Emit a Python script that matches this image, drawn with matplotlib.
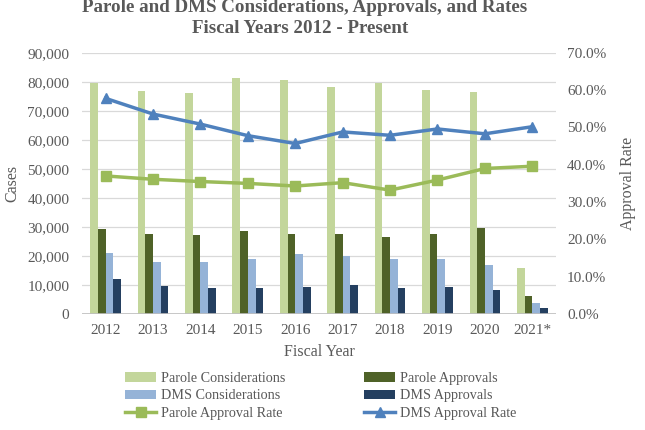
import matplotlib
matplotlib.use("Agg")
import matplotlib.pyplot as plt
import matplotlib.ticker as mticker
import numpy as np

plt.rcParams['font.family'] = ['Liberation Serif', 'DejaVu Serif']

# 数据
years = ['2012', '2013', '2014', '2015', '2016', '2017', '2018', '2019', '2020', '2021*']
parole_cons = [79600, 76700, 76200, 81200, 80700, 78100, 79600, 77300, 76400, 15800]
parole_appr = [29400, 27700, 27100, 28500, 27700, 27500, 26400, 27700, 29600, 6200]
dms_cons = [21000, 17900, 18000, 19000, 20500, 20100, 19000, 18900, 17000, 3600]
dms_appr = [12100, 9600, 9100, 9000, 9300, 9800, 9100, 9300, 8300, 2000]
parole_rate = [0.370, 0.361, 0.355, 0.350, 0.343, 0.352, 0.332, 0.359, 0.390, 0.396]
dms_rate = [0.578, 0.536, 0.509, 0.478, 0.457, 0.488, 0.479, 0.496, 0.483, 0.502]

TXT = '#595959'
fig = plt.figure(figsize=(6.45, 4.3), dpi=100)
ax = fig.add_axes([0.127, 0.270, 0.735, 0.607])
ax2 = ax.twinx()

x = np.arange(len(years))
w = 0.162
ax.bar(x - 1.5 * w, parole_cons, w, color='#C3D69B', label='Parole Considerations', zorder=2)
ax.bar(x - 0.5 * w, parole_appr, w, color='#4F6228', label='Parole Approvals', zorder=2)
ax.bar(x + 0.5 * w, dms_cons, w, color='#95B3D7', label='DMS Considerations', zorder=2)
ax.bar(x + 1.5 * w, dms_appr, w, color='#243F60', label='DMS Approvals', zorder=2)

ax2.plot(x, parole_rate, color='#9BBB59', lw=2.5, marker='s', ms=7, label='Parole Approval Rate')
ax2.plot(x, dms_rate, color='#4F81BD', lw=2.5, marker='^', ms=7, label='DMS Approval Rate')

ax.set_xlim(-0.5, len(years) - 0.5)
ax.set_ylim(0, 90000)
ax.yaxis.set_major_locator(mticker.MultipleLocator(10000))
ax.yaxis.set_major_formatter(mticker.FuncFormatter(lambda v, p: f'{int(v):,}'))
ax2.set_ylim(0, 0.7)
ax2.yaxis.set_major_locator(mticker.MultipleLocator(0.1))
ax2.yaxis.set_major_formatter(mticker.FuncFormatter(lambda v, p: f'{v * 100:.1f}%'))

ax.grid(axis='y', color='#D9D9D9', lw=0.9, zorder=0)
ax.set_axisbelow(True)
for a in (ax, ax2):
    for s in ['top', 'left', 'right', 'bottom']:
        a.spines[s].set_visible(False)
ax.axhline(0, color='#BFBFBF', lw=1.2, zorder=3)

ax.set_xticks(x)
ax.set_xticklabels(years)
ax.tick_params(axis='x', length=0, pad=7, labelsize=11, labelcolor=TXT)
ax.tick_params(axis='y', length=0, pad=9, labelsize=11, labelcolor=TXT)
ax2.tick_params(axis='y', length=0, pad=8, labelsize=11, labelcolor=TXT)

ax.set_ylabel('Cases', fontsize=11.5, color=TXT, labelpad=5)
ax2.set_ylabel('Approval Rate', fontsize=11.5, color=TXT, labelpad=10)
ax.set_xlabel('Fiscal Year', fontsize=11.5, color=TXT, labelpad=5)

fig.text(0.473, 0.982, 'Parole and DMS Considerations, Approvals, and Rates',
         ha='center', va='center', fontsize=13.7, weight='bold', color=TXT)
fig.text(0.466, 0.933, 'Fiscal Years 2012 - Present',
         ha='center', va='center', fontsize=13.7, weight='bold', color=TXT)

h1, l1 = ax.get_legend_handles_labels()
h2, l2 = ax2.get_legend_handles_labels()
handles = [h1[0], h1[2], h2[0], h1[1], h1[3], h2[1]]
labels = [l1[0], l1[2], l2[0], l1[1], l1[3], l2[1]]
fig.legend(handles, labels, ncol=2, loc='upper left', bbox_to_anchor=(0.194, 0.136),
           frameon=False, fontsize=10.2, labelcolor=TXT, handlelength=2.2,
           handletextpad=0.3, columnspacing=5.6, labelspacing=0.35,
           borderaxespad=0, borderpad=0)

plt.savefig('out.png', dpi=100)
